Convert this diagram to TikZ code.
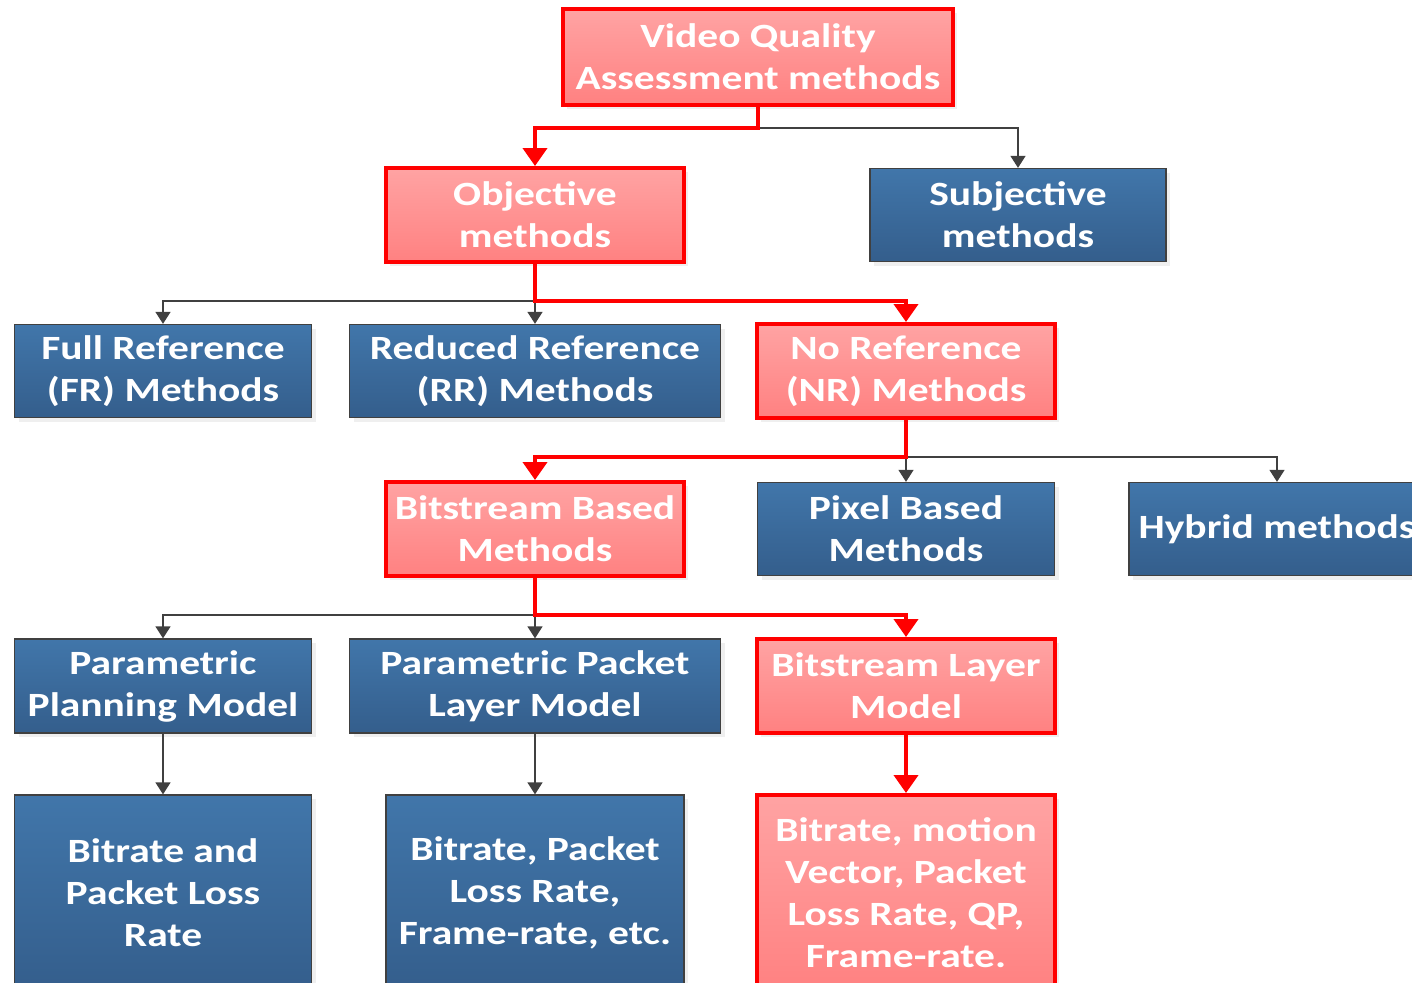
\documentclass[tikz,border=0pt]{standalone}
\usepackage{fontspec}
\setmainfont{Carlito}[FakeStretch=1.22]
\usepackage{xcolor}
\usepackage{tikz}
\usetikzlibrary{
    arrows.meta,
    positioning,
    shadows
}
\definecolor{boxred}{HTML}{FF0000}
\definecolor{pinktop}{HTML}{FFA3A3}
\definecolor{pinkbot}{HTML}{FF8181}
\definecolor{bluetop}{HTML}{4176AA}
\definecolor{bluebot}{HTML}{345E8C}
\definecolor{edgegray}{HTML}{404040}

\begin{document}
\begin{tikzpicture}[
            x=1pt, y=-1pt,
            font=\fontsize{34}{42}\selectfont\bfseries,
            block/.style={align=center, inner sep=2pt, text=white,
                drop shadow={shadow xshift=4pt, shadow yshift=-4pt, fill=black!12}},
            redbox/.style={block, draw=boxred, line width=4pt, top color=pinktop, bottom color=pinkbot},
            bluebox/.style={block, draw=edgegray, line width=1.3pt, top color=bluetop, bottom color=bluebot},
            gline/.style={-{Triangle[width=15pt, length=12pt]}, line width=1.4pt, edgegray},
            rline/.style={-{Triangle[width=24pt, length=18pt]}, line width=4pt, boxred}
        ]
            \useasboundingbox (0,0) rectangle (1412,982);

            % ====== Level 1 and 2 ======
            \node[redbox, minimum width=390pt, minimum height=95pt] (vqa) at (758, 57)
                {Video Quality\\Assessment methods};
            \node[redbox, minimum width=298pt, minimum height=94pt] (obj) at (535, 215)
                {Objective\\methods};
            \node[bluebox, minimum width=296pt, minimum height=93pt] (subj) at (1018, 215)
                {Subjective\\methods};

            \coordinate (j1) at (758, 128);
            \draw[gline] (j1) -| (subj.north);
            \draw[rline] (vqa.south) -- (j1) -| (obj.north);

            % ====== Reference types ======
            \node[bluebox, minimum width=297pt, minimum height=93pt] (fr) at (163, 371)
                {Full Reference\\(FR) Methods};
            \node[bluebox, minimum width=371pt, minimum height=93pt] (rr) at (535, 371)
                {Reduced Reference\\(RR) Methods};
            \node[redbox, minimum width=298pt, minimum height=94pt] (nr) at (906, 371)
                {No Reference\\(NR) Methods};

            \coordinate (j2) at (535, 301);
            \draw[gline] (j2) -| (fr.north);
            \draw[gline] (j2) -- (rr.north);
            \draw[rline] (obj.south) -- (j2) -| (nr.north);

            % ====== NR approaches ======
            \node[redbox, minimum width=298pt, minimum height=94pt] (bit) at (535, 529)
                {Bitstream Based\\Methods};
            \node[bluebox, minimum width=297pt, minimum height=93pt] (pix) at (906, 529)
                {Pixel Based\\Methods};
            \node[bluebox, minimum width=296pt, minimum height=93pt] (hyb) at (1277, 529)
                {Hybrid methods};

            \coordinate (j3) at (906, 457);
            \draw[gline] (j3) -- (pix.north);
            \draw[gline] (j3) -| (hyb.north);
            \draw[rline] (nr.south) -- (j3) -| (bit.north);

            % ====== Bitstream models ======
            \node[bluebox, minimum width=297pt, minimum height=94pt] (ppm) at (163, 686)
                {Parametric\\Planning Model};
            \node[bluebox, minimum width=371pt, minimum height=94pt] (pplm) at (535, 686)
                {Parametric Packet\\Layer Model};
            \node[redbox, minimum width=298pt, minimum height=94pt] (blm) at (906, 686)
                {Bitstream Layer\\Model};

            \coordinate (j4) at (535, 615);
            \draw[gline] (j4) -| (ppm.north);
            \draw[gline] (j4) -- (pplm.north);
            \draw[rline] (bit.south) -- (j4) -| (blm.north);

            % ====== Model inputs ======
            \node[bluebox, minimum width=297pt, minimum height=196pt] (in1) at (163, 893)
                {Bitrate and\\Packet Loss\\Rate};
            \node[bluebox, minimum width=298pt, minimum height=196pt] (in2) at (535, 893)
                {Bitrate, Packet\\Loss Rate,\\Frame-rate, etc.};
            \node[redbox, minimum width=298pt, minimum height=196pt] (in3) at (906, 893)
                {Bitrate, motion\\Vector, Packet\\Loss Rate, QP,\\Frame-rate.};

            \draw[gline] (ppm) -- (in1);
            \draw[gline] (pplm) -- (in2);
            \draw[rline] (blm) -- (in3);
        \end{tikzpicture}
\end{document}
